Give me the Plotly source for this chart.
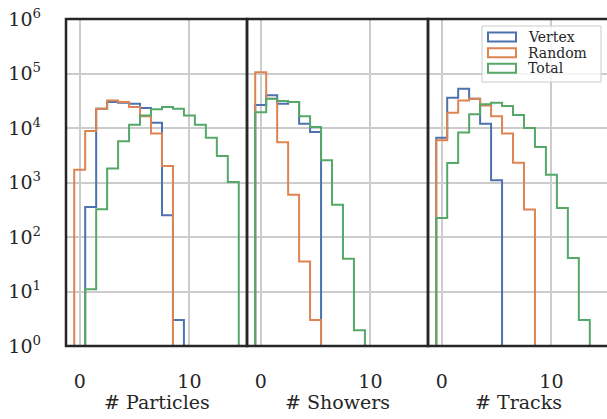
import plotly.graph_objects as go

# ---------------- data (bin centre of first bin + counts per unit-width bin) ----------------
series_names = ["Vertex", "Random", "Total"]
series_colors = ["#4c72b0", "#dd8452", "#55a868"]
panel_titles = ["# Particles", "# Showers", "# Tracks"]

particles_vertex_start = 1
particles_vertex = [355, 22600, 30000, 29000, 28000, 23300, 12500, 250, 3]
particles_random_start = 0
particles_random = [1720, 8800, 22600, 32000, 30000, 24300, 16400, 7900, 2000]
particles_total_start = 1
particles_total = [11, 322, 1800, 5700, 11500, 17000, 22000, 24300, 22600, 17000,
                   11500, 6650, 3060, 1020]

showers_vertex_start = 0
showers_vertex = [26400, 39800, 28000, 30000, 12000, 8450]
showers_random_start = 0
showers_random = [105000, 34500, 5500, 598, 35.7, 3]
showers_total_start = 0
showers_total = [19400, 34500, 31300, 30000, 16400, 10400, 2550, 392, 40, 1.94]

tracks_vertex_start = 0
tracks_vertex = [6650, 36000, 52700, 34500, 12000, 1100]
tracks_random_start = 0
tracks_random = [5940, 19100, 32000, 34500, 26000, 16400, 7900, 2310, 318]
tracks_total_start = 0
tracks_total = [223, 2280, 8300, 17800, 27200, 29200, 25300, 17300, 10000, 4480,
                1390, 340, 41, 3]

x_tick_vals = [0, 10]
x_tick_text = ["0", "10"]
y_tick_vals = [1, 10, 100, 1000, 10000, 100000, 1000000]
y_tick_text = ["10<sup>%d</sup>" % k for k in range(7)]

panels = [
    [(particles_vertex_start, particles_vertex), (particles_random_start, particles_random),
     (particles_total_start, particles_total)],
    [(showers_vertex_start, showers_vertex), (showers_random_start, showers_random),
     (showers_total_start, showers_total)],
    [(tracks_vertex_start, tracks_vertex), (tracks_random_start, tracks_random),
     (tracks_total_start, tracks_total)],
]

# ---------------- helpers ----------------
FLOOR = 1e-3  # below the visible log range, so outer edges drop out of the frame


def step_xy(start, counts):
    edges = [start - 0.5 + i for i in range(len(counts) + 1)]
    xs, ys = [edges[0]], [FLOOR]
    for i, c in enumerate(counts):
        xs += [edges[i], edges[i + 1]]
        ys += [c, c]
    xs.append(edges[-1])
    ys.append(FLOOR)
    return xs, ys


# the figure is 2 px wider than the window: the right frame of the last panel lies off-screen
W, H = 609, 419
ML, MR, MT, MB = 66, 0, 19, 73
PW = W - ML - MR
PH = H - MT - MB


def px(xp):
    return (xp - ML) / PW


def py(yp):
    return (H - MB - yp) / PH


FONT = "DejaVu Serif, serif"
FS = 19
TXT = "#262626"
SPINE = "#262626"
GRID = "#cccccc"

fig = go.Figure()

domains = [[0, 1 / 3], [1 / 3, 2 / 3], [2 / 3, 1.0]]
x_range = [-1.25, 15.25]

for p, series in enumerate(panels):
    xa = "x" if p == 0 else "x%d" % (p + 1)
    ya = "y" if p == 0 else "y%d" % (p + 1)
    for s, (start, counts) in enumerate(series):
        xs, ys = step_xy(start, counts)
        fig.add_trace(go.Scatter(
            x=xs, y=ys, mode="lines", xaxis=xa, yaxis=ya,
            line=dict(color=series_colors[s], width=2),
            name=series_names[s], showlegend=False, hoverinfo="skip",
        ))

layout = dict(
    width=W, height=H,
    margin=dict(l=ML, r=MR, t=MT, b=MB, pad=0, autoexpand=False),
    paper_bgcolor="white", plot_bgcolor="white",
    showlegend=False,
    font=dict(family=FONT, size=FS, color=TXT),
)

for p in range(3):
    sfx = "" if p == 0 else str(p + 1)
    layout["xaxis" + sfx] = dict(
        domain=domains[p], range=x_range, anchor="y" + sfx, automargin=False,
        tickmode="array", tickvals=x_tick_vals, ticktext=x_tick_text,
        showgrid=True, gridcolor=GRID, gridwidth=1.5, zeroline=False,
        showline=False, ticks="", ticklabelstandoff=22,
        tickfont=dict(family=FONT, size=FS, color=TXT),
    )
    layout["yaxis" + sfx] = dict(
        type="log", range=[0, 6], anchor="x" + sfx, automargin=False,
        tickmode="array", tickvals=y_tick_vals, ticktext=y_tick_text,
        showticklabels=(p == 0),
        showgrid=True, gridcolor=GRID, gridwidth=1.5, zeroline=False,
        showline=False, ticks="", ticklabelstandoff=24,
        tickfont=dict(family=FONT, size=FS, color=TXT),
    )
    if p > 0:
        layout["yaxis" + sfx]["matches"] = "y"

shapes = []
annotations = []
for p, d in enumerate(domains):
    # panel frame (spines), drawn above the data like matplotlib's
    shapes.append(dict(type="rect", xref="paper", yref="paper",
                       x0=d[0], x1=d[1], y0=0, y1=1,
                       line=dict(color=SPINE, width=2.5), fillcolor="rgba(0,0,0,0)",
                       layer="above"))
    annotations.append(dict(xref="paper", yref="paper", x=(d[0] + d[1]) / 2,
                            y=py(402), text=panel_titles[p], showarrow=False,
                            xanchor="center", yanchor="middle",
                            font=dict(family=FONT, size=FS, color=TXT)))

# legend box
shapes.append(dict(type="rect", xref="paper", yref="paper",
                   x0=px(482), x1=px(601), y0=py(82), y1=py(26),
                   line=dict(color="#cccccc", width=1), fillcolor="rgba(255,255,255,0.8)",
                   layer="above"))
row_y = [37, 52.7, 68.3]
for i, name in enumerate(series_names):
    shapes.append(dict(type="rect", xref="paper", yref="paper",
                       x0=px(488), x1=px(516), y0=py(row_y[i] + 4.5), y1=py(row_y[i] - 4.5),
                       line=dict(color=series_colors[i], width=2), fillcolor="rgba(0,0,0,0)",
                       layer="above"))
    annotations.append(dict(xref="paper", yref="paper", x=px(526), y=py(row_y[i]),
                            text=name, showarrow=False, xanchor="left", yanchor="middle",
                            font=dict(family=FONT, size=14, color=TXT)))

layout["shapes"] = shapes
layout["annotations"] = annotations
fig.update_layout(**layout)

fig.write_html("out.html",
               config={"displayModeBar": False},
               post_script="document.body.style.margin='0';document.body.style.overflow='hidden';")
